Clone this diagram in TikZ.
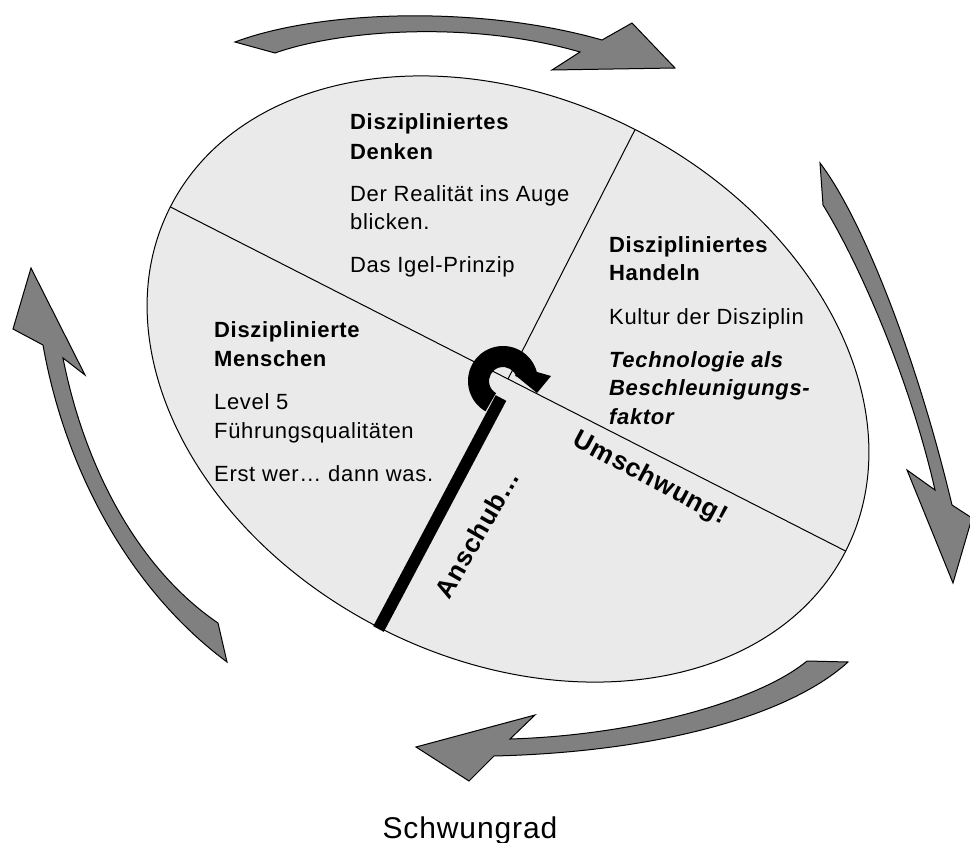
\documentclass[tikz,border=0pt]{standalone}
\usepackage{fontspec}
\setmainfont{Liberation Sans}[LetterSpace=3]
\usetikzlibrary{calc}
\definecolor{wheelgray}{RGB}{234,234,234}
\definecolor{arrowgray}{RGB}{128,128,128}
\begin{document}
\begin{tikzpicture}[x=1pt,y=-1pt,
  bigarrow/.style={fill=arrowgray,draw=black,line width=1pt,line join=miter},
  wheel/.style={fill=wheelgray,draw=black,line width=1pt},
  divider/.style={draw=black,line width=1pt},
  hd/.style={anchor=base west,inner sep=0pt,font=\fontsize{22}{26}\selectfont\bfseries},
  tx/.style={anchor=base west,inner sep=0pt,font=\fontsize{22}{26}\selectfont},
  hi/.style={anchor=base west,inner sep=0pt,font=\fontsize{22}{26}\selectfont\bfseries\itshape},
  rot/.style={inner sep=0pt,font=\fontsize{26}{30}\selectfont\bfseries}]
\useasboundingbox (0,0) rectangle (970,843);
% curved block arrows
\path[bigarrow] (235,42) .. controls (320,10) and (480,5) .. (602,40) -- (632,23) -- (675,68) -- (552,70) -- (580,52) .. controls (470,20) and (340,30) .. (275,53) -- cycle;
\path[bigarrow] (820,163) .. controls (860,215) and (915,350) .. (952,505) -- (972,518) -- (953,583) -- (907,470) -- (935,490) .. controls (910,380) and (860,265) .. (823,205) -- cycle;
\path[bigarrow] (807,661) .. controls (760,700) and (640,735) .. (510,739) -- (535,715) -- (416,747) -- (469,781) -- (494,756) .. controls (660,752) and (790,715) .. (848,662) -- cycle;
\path[bigarrow] (43,345) .. controls (65,470) and (130,590) .. (227,662) -- (218,623) .. controls (140,570) and (85,470) .. (63,358) -- (85,375) -- (31,268) -- (13,329) -- cycle;
% wheel
\coordinate (c) at (508,379);
\path[wheel,rotate around={-27:(c)}] (c) ellipse [x radius=379, y radius=280];
\coordinate (axL) at (170.3,206.9);
\coordinate (axR) at (845.7,551.1);
\coordinate (axT) at (635.1,129.5);
\draw[divider] (axL) -- (axR);
\draw[divider] (c) -- (axT);
% texts
\node[hd] (m1) at (214,337.5) {Disziplinierte};
\node[hd] (m2) at (214,366) {Menschen};
\node[tx] (m3) at (214,409) {Level 5};
\node[tx] (m4) at (214,438) {Führungsqualitäten};
\node[tx] (m5) at (214,481) {Erst wer… dann was.};
\node[hd] (d1) at (350,129.3) {Diszipliniertes};
\node[hd] (d2) at (350,159) {Denken};
\node[tx] (d3) at (350,201) {Der Realität ins Auge};
\node[tx] (d4) at (350,229.3) {blicken.};
\node[tx] (d5) at (350,272.3) {Das Igel-Prinzip};
\node[hd] (h1) at (609,252.7) {Diszipliniertes};
\node[hd] (h2) at (609,280.7) {Handeln};
\node[tx] (h3) at (609,324) {Kultur der Disziplin};
\node[hi] (h4) at (609,367.7) {Technologie als};
\node[hi] (h5) at (609,395.7) {Beschleunigungs-};
\node[hi] (h6) at (609,424) {faktor};
\node[rot,rotate=-28] (um) at (650,479) {Umschwung!};
\node[rot,rotate=60] (an) at (477,534) {Anschub{\addfontfeatures{LetterSpace=12}…}};
\node[anchor=base,inner sep=0pt,font=\fontsize{30}{34}\selectfont] (title) at (470,838) {Schwungrad};
% crank
\coordinate (crankA) at (378.5,629);
\coordinate (crankB) at (501,398);
\draw[line width=12pt] (crankA) -- (crankB);
\coordinate (rc) at (503,381);
\fill[black] (rc) ++(120:35) arc[start angle=120,end angle=345,radius=35] -- (551,376) -- (537,393) -- (515,375) -- ($(rc)+(345:14)$) arc[start angle=345,end angle=120,radius=14] -- cycle;
\end{tikzpicture}
\end{document}
